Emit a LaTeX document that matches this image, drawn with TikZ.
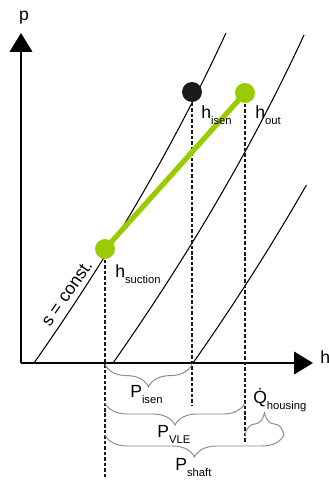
\documentclass[tikz,border=0pt]{standalone}
\usepackage{fontspec}
\setmainfont{Liberation Sans}
\usetikzlibrary{arrows.meta, decorations.pathreplacing}

% label with a lowered, smaller index
\newcommand{\sublabel}[2]{#1\raisebox{-4.6pt}{\fontsize{8}{9.6}\selectfont #2}}

\begin{document}
\begin{tikzpicture}[
    every node/.style={font=\fontsize{12.5}{15}\selectfont, inner sep=0pt},
    axis/.style={line width=1.4pt, -{Triangle[length=0.47cm, width=0.56cm]}},
    isentrope/.style={line width=0.75pt},
    dropline/.style={line width=1pt, draw=black!90, dash pattern=on 2.5pt off 1.4pt},
    powerbrace/.style={decorate, decoration={brace, amplitude=0.55cm}, draw=braceColour, line width=0.7pt},
    statedot/.style={circle, minimum size=0.5cm, inner sep=0pt},
]
    \definecolor{processColour}{HTML}{99CC00}
    \definecolor{dotColour}{HTML}{1A1A1A}
    \definecolor{braceColour}{HTML}{8C8C8C}

    % Fix the margins
    \useasboundingbox (-0.525,-2.95) rectangle (7.7,9.075);

    % Draw axes
    \coordinate (origin) at (0,0);
    \coordinate (pTip) at (0,8.25);
    \coordinate (hTip) at (7.3,0);
    \draw[axis] (origin) -- (pTip);
    \draw[axis] (origin) -- (hTip);
    \node[anchor=base] (pLabel) at (0.075,8.575) {p};
    \node[anchor=base west] (hLabel) at (7.475,0) {h};

    % Draw isentropes (shift / upper end)
    \foreach \s/\top in {-1.975/8.25, 0/8.2, 2.0/4.45}
        \draw[isentrope] plot[domain=0:\top, variable=\t, samples=40]
            ({\s+2.3+0.7022*\t-0.01461*\t*\t},\t);
    \node[rotate=55] (sConst) at (1.15,1.75) {s = const.};

    % State points
    \coordinate (suctionPt) at (2.1,2.85);
    \coordinate (isenPt) at (4.275,6.775);
    \coordinate (outPt) at (5.6,6.75);

    % Drop lines to the h axis
    \coordinate (suctionFoot) at (2.1,-2.85);
    \coordinate (isenFoot) at (4.275,-1.05);
    \coordinate (outFoot) at (5.6,-2.0);
    \draw[dropline] (suctionPt) -- (suctionFoot);
    \draw[dropline] (isenPt) -- (isenFoot);
    \draw[dropline] (outPt) -- (outFoot);

    % Compression path
    \draw[processColour, line width=3.7pt] (suctionPt) -- (outPt);
    \node[statedot, fill=processColour] (suction) at (suctionPt) {};
    \node[statedot, fill=processColour] (out) at (outPt) {};
    \node[statedot, fill=dotColour] (isen) at (isenPt) {};

    \node[anchor=base west] (hSuction) at (2.35,2.15) {\sublabel{h}{suction}};
    \node[anchor=base west] (hIsen) at (4.5,6.125) {\sublabel{h}{isen}};
    \node[anchor=base west] (hOut) at (5.85,6.125) {\sublabel{h}{out}};

    % Braces for the powers
    \coordinate (isenL) at (2.1,-0.04);
    \coordinate (isenR) at (4.275,-0.04);
    \coordinate (vleL) at (2.1,-1.0);
    \coordinate (vleR) at (5.6,-1.0);
    \coordinate (shaftL) at (2.1,-1.8);
    \coordinate (shaftR) at (6.575,-1.8);
    \coordinate (housingL) at (5.6,-1.8);
    \coordinate (housingR) at (6.575,-1.8);
    \draw[powerbrace] (isenR) -- (isenL);
    \draw[powerbrace] (vleR) -- (vleL);
    \draw[powerbrace] (shaftR) -- (shaftL);
    \draw[powerbrace] (housingL) -- (housingR);

    \node[anchor=base west] (pIsen) at (2.725,-0.85) {\sublabel{P}{isen}};
    \node[anchor=base west] (pVle) at (3.4,-1.85) {\sublabel{P}{VLE}};
    \node[anchor=base west] (pShaft) at (3.85,-2.675) {\sublabel{P}{shaft}};
    \node[anchor=base west] (qHousing) at (5.8,-1.0) {\sublabel{\.{Q}}{housing}};

\end{tikzpicture}
\end{document}
